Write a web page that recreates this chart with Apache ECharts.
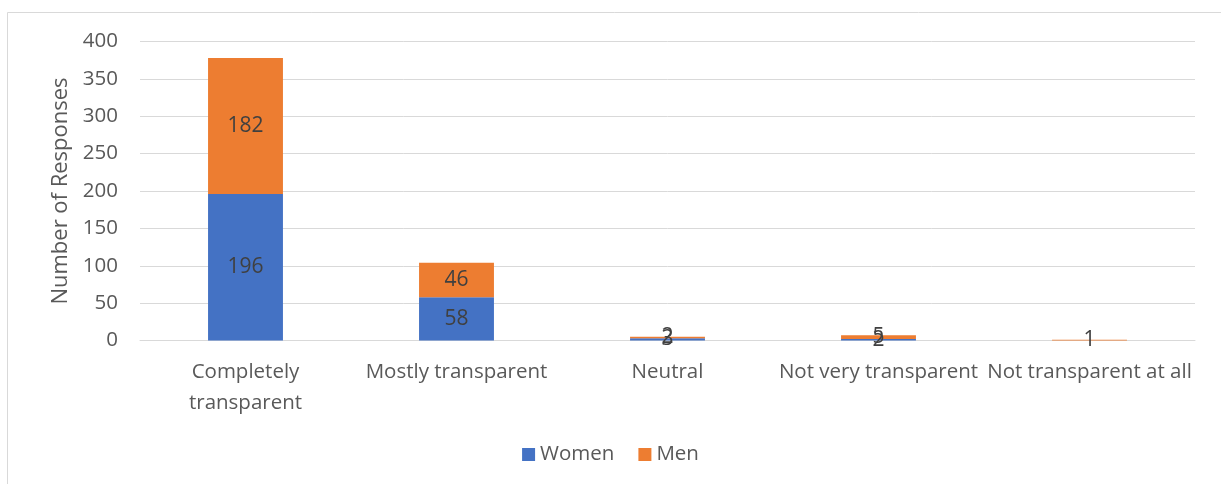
<!DOCTYPE html>
<html>
<head>
<meta charset="utf-8">
<script src="https://cdn.jsdelivr.net/npm/echarts@6/dist/echarts.min.js"></script>
<style>
  html, body { margin: 0; padding: 0; background: #ffffff; }
  #chart { width: 1221px; height: 484px; }
</style>
</head>
<body>
<div id="chart"></div>
<script>
// Survey responses by transparency rating, split by gender
const categories = ['Completely transparent', 'Mostly transparent', 'Neutral', 'Not very transparent', 'Not transparent at all'];
const women = [196, 58, 3, 2, null];
const men = [182, 46, 2, 5, 1];
const yTicks = { min: 0, max: 400, interval: 50 };

const FONT = 'Open Sans';
const textColor = '#595959';
const SIZE = 20.5;

const chart = echarts.init(document.getElementById('chart'), null, { renderer: 'canvas' });

function barLabel() {
  return {
    show: true,
    position: 'inside',
    color: '#404040',
    fontFamily: FONT,
    fontSize: 21,
    formatter: p => (p.value == null ? '' : String(p.value))
  };
}

chart.setOption({
  animation: false,
  backgroundColor: '#ffffff',
  graphic: [{
    type: 'rect',
    shape: { x: 7.5, y: 12.5, width: 1230, height: 490 },
    style: { fill: 'none', stroke: '#d9d9d9', lineWidth: 1 },
    silent: true
  }],
  grid: { left: 140, right: 26, top: 41.5, bottom: 143.5, containLabel: false },
  legend: {
    bottom: 14,
    left: 'center',
    itemWidth: 13,
    itemHeight: 13,
    itemGap: 24,
    icon: 'rect',
    textStyle: { color: textColor, fontFamily: FONT, fontSize: SIZE },
    data: ['Women', 'Men']
  },
  xAxis: {
    type: 'category',
    data: categories,
    axisLine: { show: true, lineStyle: { color: '#d9d9d9', width: 1 } },
    axisTick: { show: false },
    axisLabel: {
      color: textColor,
      fontFamily: FONT,
      fontSize: SIZE,
      margin: 16,
      lineHeight: 31,
      interval: 0,
      formatter: v => (v === 'Completely transparent' ? 'Completely\ntransparent' : v)
    }
  },
  yAxis: {
    type: 'value',
    min: yTicks.min,
    max: yTicks.max,
    interval: yTicks.interval,
    name: 'Number of Responses',
    nameLocation: 'middle',
    nameGap: 68,
    nameRotate: 90,
    nameTextStyle: { color: textColor, fontFamily: FONT, fontSize: 22 },
    axisLine: { show: false },
    axisTick: { show: false },
    axisLabel: { color: textColor, fontFamily: FONT, fontSize: SIZE, margin: 22 },
    splitLine: { lineStyle: { color: '#d9d9d9', width: 1 } }
  },
  series: [
    {
      name: 'Women',
      type: 'bar',
      stack: 'total',
      data: women,
      barWidth: '35.5%',
      itemStyle: { color: '#4472c4' },
      label: barLabel()
    },
    {
      name: 'Men',
      type: 'bar',
      stack: 'total',
      data: men,
      barWidth: '35.5%',
      itemStyle: { color: '#ed7d31' },
      label: barLabel()
    }
  ]
});
</script>
</body>
</html>
